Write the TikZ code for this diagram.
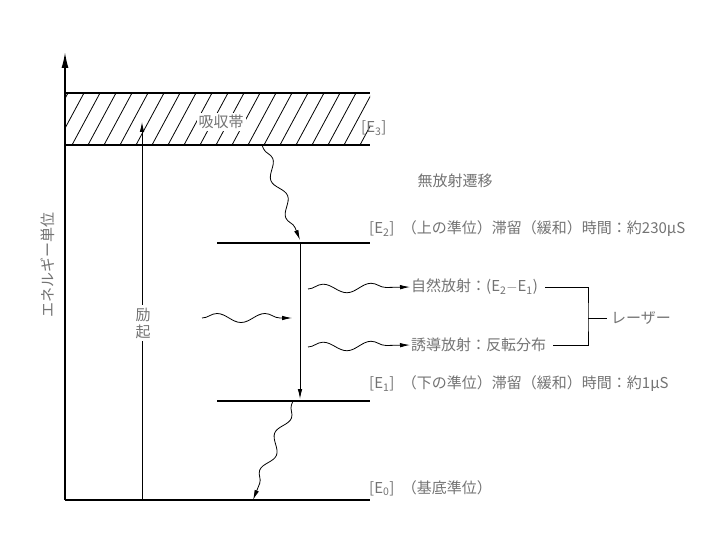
\documentclass[tikz,border=0pt]{standalone}
\usepackage{fontspec}
\setmainfont{Noto Sans CJK JP}
\usetikzlibrary{decorations.pathmorphing,arrows.meta}

\begin{document}
\begin{tikzpicture}[x=1pt,y=-1pt,
  lvl/.style={line width=1.6pt},
  tip/.style={-{Latex[length=10pt,width=4.5pt]}},
  wave/.style={decorate,decoration={snake,amplitude=4.5pt,segment length=48pt,post length=11pt}},
  fall/.style={decorate,decoration={snake,amplitude=5pt,segment length=40pt,pre length=4pt,post length=10pt}},
  lbl/.style={text=black!55,font=\fontsize{15}{17}\selectfont,inner sep=1pt}]
\useasboundingbox (0,0) rectangle (720,540);

% axis and levels
\coordinate (org) at (65,500);
\coordinate (ytop) at (65,52);
\coordinate (e0r) at (370,500);
\draw[lvl,-{Latex[length=16pt,width=7pt]}] (org) -- (ytop);
\draw[lvl] (org) -- (e0r);
\draw[lvl] (65,93) -- (370,93);
\draw[lvl] (65,145) -- (370,145);
\begin{scope}
  \clip (65,93) rectangle (370,145);
  \foreach \x in {40,56,...,370}
    \draw[line width=0.8pt] (\x,145) -- ++(28,-52);
\end{scope}
\coordinate (e2l) at (217,243);
\coordinate (e2r) at (370,243);
\coordinate (e1l) at (217,401);
\coordinate (e1r) at (370,401);
\draw[lvl] (e2l) -- (e2r);
\draw[lvl] (e1l) -- (e1r);

% excitation
\coordinate (exb) at (142,500);
\coordinate (ext) at (142,122);
\draw[thick,tip] (exb) -- (ext);
\node[lbl,fill=white,align=center,inner sep=3pt] (exc) at (143,323) {励\\起};
\node[lbl,fill=white,inner sep=2pt] (band) at (221,122) {吸収帯};

% transitions
\coordinate (f1a) at (262,145);
\coordinate (f1b) at (300,240);
\coordinate (f2a) at (293,401);
\coordinate (f2b) at (253,500);
\draw[thick,fall,tip] (f1a) -- (f1b);
\draw[thick,fall,tip] (f2a) -- (f2b);
\coordinate (las1) at (300,243);
\coordinate (las2) at (300,399);
\draw[thick,tip] (las1) -- (las2);

% labels
\node[lbl,rotate=90] (yl) at (48,265) {エネルギー単位};
\node[lbl,anchor=west] (e3) at (360,128) {[E\textsubscript{3}]};
\node[lbl] (nr) at (455,181) {無放射遷移};
\node[lbl,anchor=west] (e2) at (368,229) {[E\textsubscript{2}]\enspace（上の準位）滞留（緩和）時間：約230μS};
\node[lbl,anchor=west] (e1) at (368,384) {[E\textsubscript{1}]\enspace（下の準位）滞留（緩和）時間：約1μS};
\node[lbl,anchor=west] (e0) at (368,488) {[E\textsubscript{0}]\enspace（基底準位）};
\node[lbl,anchor=west] (sp) at (410,287) {自然放射：(E\textsubscript{2}$-$E\textsubscript{1})};
\node[lbl,anchor=west] (st) at (410,345) {誘導放射：反転分布};
\node[lbl,anchor=west] (laser) at (610,318) {レーザー};

% photons
\coordinate (inw) at (202,318);
\coordinate (ine) at (292,318);
\coordinate (spw) at (308,289);
\coordinate (stw) at (308,347);
\draw[thick,wave,tip] (inw) -- (ine);
\draw[thick,wave,tip] (spw) -- (sp.west);
\draw[thick,wave,tip] (stw) -- (st.west);

% bracket
\coordinate (br) at (588,318);
\draw[semithick] ([xshift=6pt]sp.east) -| (br) |- ([xshift=6pt]st.east);
\draw[semithick] (br) -- ([xshift=-3pt]laser.west);
\end{tikzpicture}
\end{document}
